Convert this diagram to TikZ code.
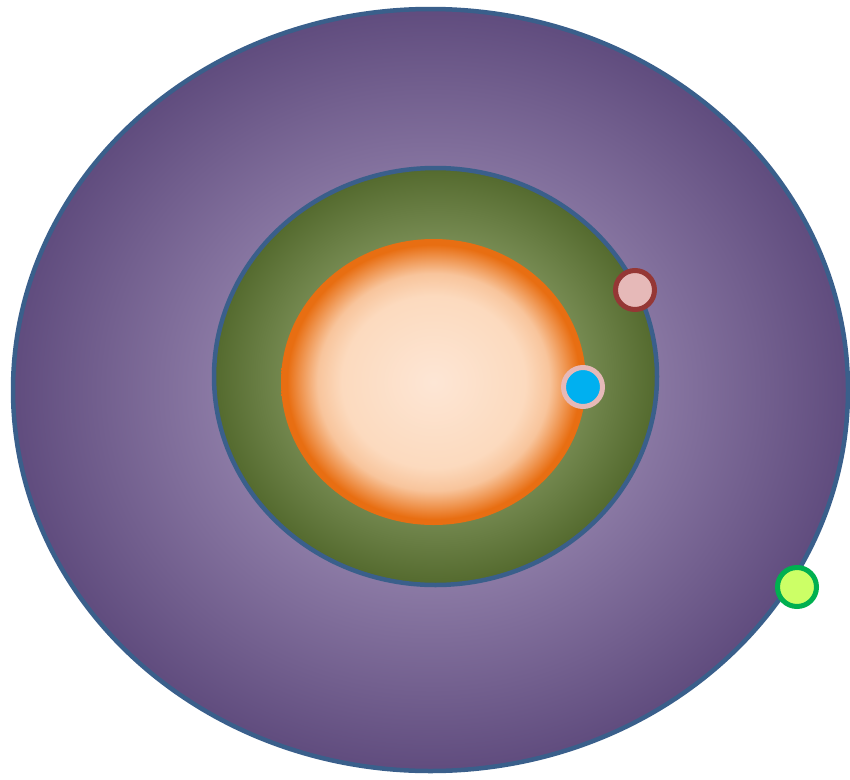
\documentclass[tikz,border=0pt]{standalone}
\usetikzlibrary{shadings}
\definecolor{edgeblue}{RGB}{58,95,139}
\definecolor{purC}{RGB}{168,154,194}
\definecolor{purM}{RGB}{145,128,170}
\definecolor{purE}{RGB}{96,76,126}
\definecolor{grnC}{RGB}{150,168,112}
\definecolor{grnM}{RGB}{124,144,88}
\definecolor{grnE}{RGB}{84,106,46}
\definecolor{orC}{RGB}{253,230,213}
\definecolor{orM}{RGB}{252,218,190}
\definecolor{orE}{RGB}{232,110,18}
\definecolor{pinkfill}{RGB}{230,185,184}
\definecolor{pinkedge}{RGB}{149,55,53}
\definecolor{bluefill}{RGB}{0,176,240}
\definecolor{limefill}{RGB}{204,255,102}
\definecolor{limeedge}{RGB}{0,176,80}
\pgfdeclareradialshading{purpleglow}{\pgfpoint{0bp}{0bp}}{color(0bp)=(purC); color(11bp)=(purM); color(25bp)=(purE); color(50bp)=(purE)}
\pgfdeclareradialshading{greenglow}{\pgfpoint{0bp}{0bp}}{color(0bp)=(grnC); color(15bp)=(grnM); color(25bp)=(grnE); color(50bp)=(grnE)}
\pgfdeclareradialshading{orangeglow}{\pgfpoint{0bp}{0bp}}{color(0bp)=(orC); color(15bp)=(orM); color(19bp)=(orM!80!orE); color(24bp)=(orE); color(50bp)=(orE)}
\tikzset{
  ring/.style={draw=edgeblue, line width=4.5pt},
  dot/.style={circle, line width=5pt, minimum size=39pt, inner sep=0pt}
}
\begin{document}
\begin{tikzpicture}[x=1pt,y=-1pt]
\useasboundingbox (0,0) rectangle (850,779);
\shade[ring, shading=purpleglow] (430.5,390) ellipse [x radius=417.5, y radius=381];
\shade[ring, shading=greenglow] (435.5,376.5) ellipse [x radius=221.5, y radius=208.5];
\shade[shading=orangeglow] (433.5,382) ellipse [x radius=152.5, y radius=143];
\node[dot, draw=pinkedge, fill=pinkfill] (pink) at (635,290) {};
\node[dot, draw=pinkfill, fill=bluefill] (blue) at (583,387) {};
\node[dot, draw=limeedge, fill=limefill] (lime) at (797,587) {};
\end{tikzpicture}
\end{document}
